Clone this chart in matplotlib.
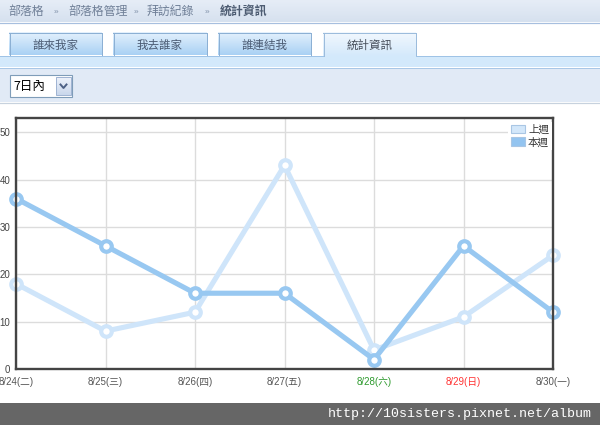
import numpy as np
import matplotlib
matplotlib.use("Agg")
import matplotlib.pyplot as plt
from matplotlib.patches import Rectangle, Patch
from matplotlib.lines import Line2D

# ---------------- data ----------------
dates = ['8/24', '8/25', '8/26', '8/27', '8/28', '8/29', '8/30']
weekdays = ['二', '三', '四', '五', '六', '日', '一']
this_week = [36, 26, 16, 16, 2, 26, 12]
last_week = [18, 8, 12, 43, 4, 11, 24]
tick_colors = ['#555555', '#555555', '#555555', '#555555', '#2e9a2e', '#ff3333', '#555555']
y_ticks = [0, 10, 20, 30, 40, 50]
series_names = ['上週', '本週']
breadcrumb = ['部落格', '部落格管理', '拜訪紀錄', '統計資訊']
tabs = ['誰來我家', '我去誰家', '誰連結我', '統計資訊']
range_label = '7日內'
url_text = 'http://10sisters.pixnet.net/album'

W, H = 600, 425
CJK = ['Noto Sans CJK TC', 'DejaVu Sans']
LAT = ['Liberation Sans', 'Noto Sans CJK TC']

fig = plt.figure(figsize=(W / 100, H / 100), dpi=100)
fig.patch.set_facecolor('white')


def fx(x):
    return x / W


def fy(y):
    return 1 - y / H


def rect(x0, y0, x1, y1, fc, ec='none', lw=0, z=0):
    fig.patches.append(Rectangle((fx(x0), fy(y1)), (x1 - x0) / W, (y1 - y0) / H,
                                 transform=fig.transFigure, facecolor=fc,
                                 edgecolor=ec, linewidth=lw, zorder=z))


def grad(x0, y0, x1, y1, c_top, c_bot, z=0):
    ax_g = fig.add_axes([fx(x0), fy(y1), (x1 - x0) / W, (y1 - y0) / H], zorder=z)
    ct = np.array(matplotlib.colors.to_rgb(c_top))
    cb = np.array(matplotlib.colors.to_rgb(c_bot))
    t = np.linspace(0, 1, 64)[:, None, None]
    img = ct * (1 - t) + cb * t
    img = np.repeat(img, 2, axis=1)
    ax_g.imshow(img, aspect='auto', interpolation='bilinear')
    ax_g.set_axis_off()
    return ax_g


def hline(x0, x1, y, color, lw=1.0, z=5):
    fig.add_artist(Line2D([fx(x0), fx(x1)], [fy(y), fy(y)], transform=fig.transFigure,
                          color=color, linewidth=lw * 0.72, zorder=z))


def vline(x, y0, y1, color, lw=1.0, z=5):
    fig.add_artist(Line2D([fx(x), fx(x)], [fy(y0), fy(y1)], transform=fig.transFigure,
                          color=color, linewidth=lw * 0.72, zorder=z))


# ---------- top breadcrumb bar ----------
grad(0, 0, W, 22, '#e6edf7', '#d6e1ef', z=0)
hline(0, W, 22.5, '#a7bfdf', 1.2)
bx = [8, 68, 147, 220]
for i, (name, x) in enumerate(zip(breadcrumb, bx)):
    fig.text(fx(x), fy(11), name, family=CJK, fontsize=8.6,
             color='#4e5d73' if i == len(breadcrumb) - 1 else '#6f7f97',
             fontweight='bold' if i == len(breadcrumb) - 1 else 'normal',
             va='center', ha='left', zorder=10)
for x in [56, 136, 207]:
    fig.text(fx(x), fy(12.5), '»', family=LAT, fontsize=6, color='#8090a8',
             va='center', ha='center', zorder=10)

# ---------- tabs ----------
tab_x = [(9, 102), (113, 207), (218, 311), (323, 416)]
for i, (name, (x0, x1)) in enumerate(zip(tabs, tab_x)):
    active = i == len(tabs) - 1
    if active:
        grad(x0, 32, x1, 56, '#f2f8fe', '#d4e9fb', z=1)
    else:
        grad(x0, 32, x1, 55, '#e4f1fd', '#a9d1f4', z=1)
    ec = '#9cbcdc' if active else '#8cb0d4'
    hline(x0, x1, 32.5, ec)
    vline(x0 + 0.5, 32.5, 55.5, ec)
    vline(x1 - 0.5, 32.5, 55.5, ec)
    fig.text(fx((x0 + x1) / 2), fy(45), name, family=CJK, fontsize=8.3,
             color='#444c58' if active else '#4a5a72', va='center', ha='center', zorder=10)

# band under tabs
rect(0, 56, W, 67, '#d3e9fb', z=0)
hline(0, 323, 55.5, '#9fc3e6', 1.0)
hline(416, W, 55.5, '#9fc3e6', 1.0)
hline(0, W, 67.5, '#a9c7e6', 1.0)

# filter area
rect(0, 68, W, 102, '#e1eaf6', z=0)
hline(0, W, 102.5, '#c7d2de', 1.2)

# dropdown
rect(10, 75, 72, 97, 'white', ec='#7f9db9', lw=0.8, z=3)
fig.text(fx(13), fy(86.5), range_label, family=CJK, fontsize=9, color='black',
         va='center', ha='left', zorder=10)
grad(56, 77, 71, 95, '#eef3fb', '#c9d7ec', z=4)
rect(56, 77, 71, 95, 'none', ec='#9fb3d2', lw=0.7, z=5)
fig.add_artist(Line2D([fx(60.5), fx(63.5), fx(66.5)], [fy(84.5), fy(88), fy(84.5)],
                      transform=fig.transFigure, color='#4d6185', linewidth=1.4, zorder=12))

# bottom watermark bar
rect(0, 403, W, H, '#666666', z=0)
fig.text(fx(592), fy(413.5), url_text, family=['Liberation Mono', 'DejaVu Sans Mono'],
         fontsize=9.6, color='white', va='center', ha='right', zorder=10)

# ---------- chart ----------
left, right, top, bottom = 16, 553, 118, 369
ax = fig.add_axes([fx(left), fy(bottom), (right - left) / W, (bottom - top) / H], zorder=6)
ax.set_facecolor('white')
x = np.arange(len(dates))
light = '#cfe5fa'
dark = '#98c8f1'

for vals, col, z in [(last_week, light, 3), (this_week, dark, 4)]:
    ax.plot(x, vals, color=col, linewidth=3.7, zorder=z, solid_capstyle='round',
            solid_joinstyle='round', marker='o', markersize=7.6,
            markerfacecolor='white', markeredgecolor=col, markeredgewidth=3.0,
            clip_on=False)

ax.set_xlim(0, len(dates) - 1)
ax.set_ylim(0, 53)
ax.set_yticks(y_ticks)
ax.set_xticks(x)
ax.set_xticklabels([f'{d}({w})' for d, w in zip(dates, weekdays)])
for lbl, c in zip(ax.get_xticklabels(), tick_colors):
    lbl.set_color(c)
    lbl.set_family(LAT)
    lbl.set_fontsize(7.0)
for lbl in ax.get_yticklabels():
    lbl.set_color('#444444')
    lbl.set_family(LAT)
    lbl.set_fontsize(7.0)
ax.tick_params(axis='both', length=0)
ax.tick_params(axis='x', pad=5.5)
ax.tick_params(axis='y', pad=4)
ax.grid(True, color='#dcdcdc', linewidth=1.0, zorder=0)
ax.set_axisbelow(True)
for s in ax.spines.values():
    s.set_color('#444444')
    s.set_linewidth(1.7)
    s.set_zorder(10)

handles = [Patch(facecolor='#d3e7fa', edgecolor='#a9c6e4', linewidth=0.8),
           Patch(facecolor='#93c4f0', edgecolor='#a9c6e4', linewidth=0.8)]
leg = ax.legend(handles, series_names, loc='upper right', bbox_to_anchor=(0.9975, 0.985),
                prop={'family': CJK, 'size': 7.6}, frameon=True, fancybox=False,
                framealpha=1, edgecolor='none', handlelength=1.4, handleheight=0.9,
                handletextpad=0.25, labelspacing=0.25, borderpad=0.25, borderaxespad=0)
leg.set_zorder(20)
for t in leg.get_texts():
    t.set_color('#333333')

fig.savefig('out.png', dpi=100)
